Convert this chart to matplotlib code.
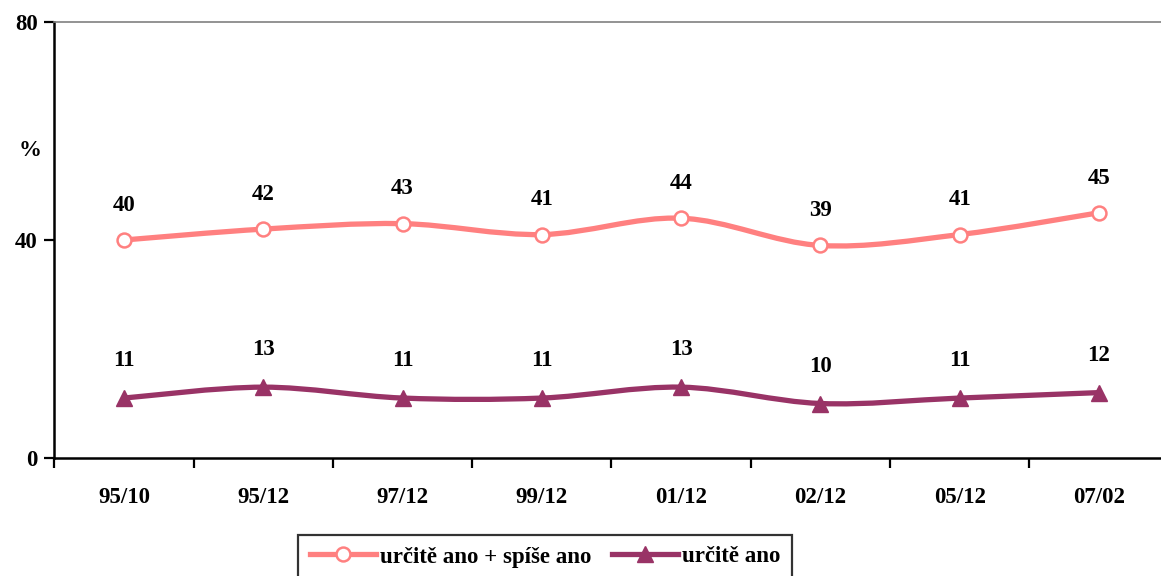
import numpy as np
import matplotlib
matplotlib.use("Agg")
import matplotlib.pyplot as plt
from matplotlib.path import Path
from matplotlib.patches import PathPatch
from matplotlib.lines import Line2D

periods = ["95/10", "95/12", "97/12", "99/12", "01/12", "02/12", "05/12", "07/02"]
yes_total = [40, 42, 43, 41, 44, 39, 41, 45]
yes_sure = [11, 13, 11, 11, 13, 10, 11, 12]

PINK = "#FF8080"
PURPLE = "#993366"
FS = 16.5

plt.rcParams["font.family"] = ["Liberation Serif", "DejaVu Serif"]
plt.rcParams["font.weight"] = "bold"


def smooth_path(xs, ys, tension=1 / 6):
    # Excel-like smoothed line: cubic Bezier through the points
    pts = np.column_stack([xs, ys]).astype(float)
    verts = [pts[0]]
    codes = [Path.MOVETO]
    n = len(pts)
    for i in range(n - 1):
        p0 = pts[i - 1] if i > 0 else pts[i]
        p1, p2 = pts[i], pts[i + 1]
        p3 = pts[i + 2] if i + 2 < n else pts[i + 1]
        c1 = p1 + (p2 - p0) * tension
        c2 = p2 - (p3 - p1) * tension
        verts += [c1, c2, p2]
        codes += [Path.CURVE4] * 3
    return Path(verts, codes)


fig = plt.figure(figsize=(11.61, 5.76), dpi=100)
W, H = 1161, 576
left, right, top, bottom = 54.4, 1168.6, 22, 458
ax = fig.add_axes([left / W, 1 - bottom / H, (right - left) / W, (bottom - top) / H])

x = np.arange(len(periods))
ax.add_patch(PathPatch(smooth_path(x, yes_total), fill=False, edgecolor=PINK,
                       lw=3.8, capstyle="round", zorder=2))
ax.add_patch(PathPatch(smooth_path(x, yes_sure), fill=False, edgecolor=PURPLE,
                       lw=3.8, capstyle="round", zorder=2))
ax.plot(x, yes_total, ls="none", marker="o", ms=10, mfc="white", mec=PINK,
        mew=1.8, zorder=3, clip_on=False)
ax.plot(x, yes_sure, ls="none", marker="^", ms=12, color=PURPLE, zorder=3,
        clip_on=False)

for xi, v in zip(x, yes_total):
    ax.annotate(str(v), (xi, v), xytext=(0, 25), textcoords="offset points",
                ha="center", va="center", fontsize=FS, fontweight="bold")
for xi, v in zip(x, yes_sure):
    ax.annotate(str(v), (xi, v), xytext=(0, 27), textcoords="offset points",
                ha="center", va="center", fontsize=FS, fontweight="bold")

ax.set_xlim(-0.5, len(periods) - 0.5)
ax.set_ylim(0, 80)
ax.set_yticks([0, 40, 80])
ax.set_yticklabels(["0", "40", "80"], fontsize=FS, fontweight="bold")
ax.set_xticks(np.arange(-0.5, len(periods), 1.0))
ax.set_xticklabels([])
ax.set_xticks(x, minor=True)
ax.set_xticklabels(periods, minor=True, fontsize=FS, fontweight="bold")
ax.tick_params(axis="x", which="minor", length=0, pad=21)
ax.tick_params(axis="x", which="major", length=7, width=1.6, direction="out")
ax.tick_params(axis="y", length=7, width=1.6, direction="out", pad=5)

for s in ["left", "bottom"]:
    ax.spines[s].set_linewidth(1.8)
    ax.spines[s].set_color("black")
ax.spines["top"].set_color("#808080")
ax.spines["top"].set_linewidth(1.2)
ax.spines["right"].set_visible(False)

fig.text(30 / W, 1 - 150 / H, "%", ha="center", va="center", fontsize=FS,
         fontweight="bold")

handles = [
    Line2D([], [], color=PINK, lw=3.8, marker="o", ms=10, mfc="white", mec=PINK,
           mew=1.8),
    Line2D([], [], color=PURPLE, lw=3.8, marker="^", ms=12),
]
leg = fig.legend(handles, ["určitě ano + spíše ano", "určitě ano"],
                 loc="upper center", bbox_to_anchor=(545 / W, 1 - 535 / H), ncol=2,
                 frameon=True, fancybox=False, edgecolor="black",
                 prop={"size": FS, "weight": "bold"}, handlelength=2.9,
                 handletextpad=0.15, columnspacing=0.9, borderpad=0.5,
                 borderaxespad=0)
leg.get_frame().set_linewidth(1.6)

fig.savefig("out.png", dpi=100)
